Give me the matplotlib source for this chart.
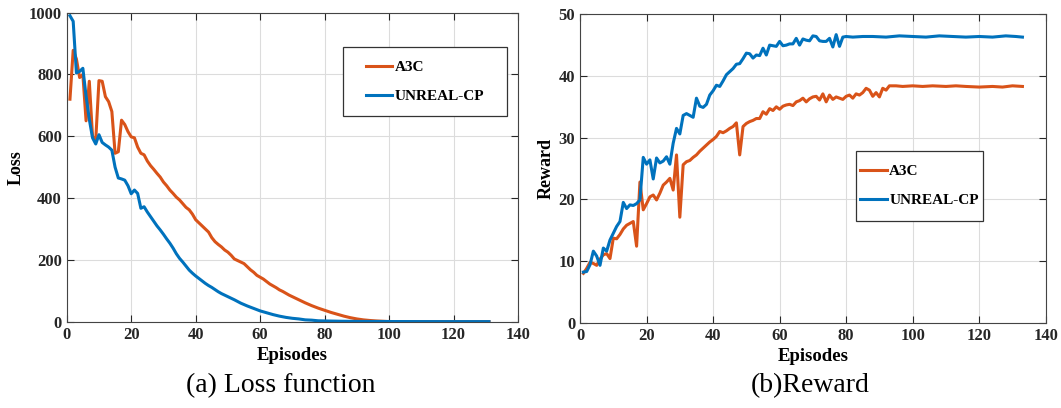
import matplotlib
matplotlib.use("Agg")
import matplotlib.pyplot as plt
from matplotlib.patches import Rectangle

plt.rcParams.update({
    "font.family": "Liberation Serif", "font.weight": "bold",
    "axes.labelweight": "bold", "font.size": 11.5,
})
ORANGE = "#D95319"
BLUE = "#0072BD"
SPINE = "#444444"

# ---- loss curves
loss_a3c_ep = [1, 2, 3, 4, 5, 6, 7, 8, 9, 10, 11, 12, 13, 14, 15, 16, 17, 18, 19, 20,
               21, 22, 23, 24, 25, 26, 27, 28, 29, 30, 31, 32, 33, 34, 35, 36, 37, 38, 39, 40,
               41, 42, 43, 44, 45, 46, 47, 48, 49, 50, 51, 52, 53, 54, 55, 56, 57, 58, 59, 60,
               61, 62, 63, 64, 65, 66, 67, 68, 69, 70, 72, 74, 76, 78, 80, 82, 84, 86, 88, 90,
               92, 94, 96, 98, 100, 105, 110, 115, 120, 125, 131]
loss_a3c = [720, 878, 850, 790, 800, 650, 778, 600, 588, 780, 778, 728, 712, 680, 545, 550, 652, 638, 615, 598,
            595, 565, 545, 540, 520, 505, 493, 480, 468, 452, 440, 426, 415, 403, 394, 382, 370, 362, 348, 330,
            320, 310, 300, 290, 272, 259, 250, 242, 232, 225, 215, 203, 198, 193, 188, 178, 168, 160, 150, 144,
            138, 130, 122, 116, 110, 103, 98, 92, 86, 81, 71, 61, 52, 44, 37, 30, 24, 18, 13, 9,
            6, 4, 2.5, 1.5, 0.5, 0.3, 0.2, 0.2, 0.1, 0.1, 0.1]

loss_unreal_ep = [1, 2, 3, 4, 5, 6, 7, 8, 9, 10, 11, 12, 13, 14, 15, 16, 17, 18, 19, 20,
                  21, 22, 23, 24, 25, 26, 27, 28, 29, 30, 31, 32, 33, 34, 35, 36, 37, 38, 39, 40,
                  41, 42, 43, 44, 45, 46, 47, 48, 49, 50, 52, 54, 56, 58, 60, 62, 64, 66, 68, 70,
                  72, 74, 76, 78, 80, 85, 90, 100, 110, 120, 131]
loss_unreal = [990, 972, 805, 810, 820, 730, 655, 595, 575, 605, 580, 572, 565, 555, 500, 465, 462, 458, 440, 414,
               426, 415, 367, 372, 355, 340, 325, 310, 297, 283, 268, 254, 238, 220, 205, 193, 180, 167, 157, 148,
               140, 132, 124, 117, 111, 104, 97, 91, 86, 81, 71, 60, 51, 43, 35, 29, 23, 18, 14, 11,
               9, 6, 5, 3, 2.5, 1.5, 1, 0.6, 0.4, 0.3, 0.3]

# ---- reward curves
rew_a3c_ep = list(range(1, 94)) + [95, 97, 100, 103, 106, 110, 113, 116, 120, 124, 127, 130, 133]
rew_a3c = [8.0, 8.8, 9.8, 9.6, 9.3, 10.3, 11.0, 11.2, 10.4, 13.7, 13.6, 14.3, 15.2, 15.8, 16.1, 16.4, 12.4, 22.8, 18.3, 19.3,
           20.4, 20.7, 19.9, 21.0, 22.3, 22.8, 23.4, 21.5, 27.2, 17.1, 25.6, 26.1, 26.3, 26.8, 27.2, 27.8, 28.3, 28.8, 29.3, 29.7,
           30.2, 31.0, 30.8, 31.1, 31.5, 31.8, 32.4, 27.2, 31.8, 32.3, 32.6, 32.8, 33.1, 33.1, 34.2, 33.8, 34.7, 34.4, 35.0, 34.6,
           35.1, 35.3, 35.4, 35.2, 35.8, 36.0, 36.4, 35.8, 36.3, 36.6, 36.7, 36.1, 37.1, 35.8, 36.9, 36.2, 36.6, 36.4, 36.2, 36.7,
           36.9, 36.4, 37.1, 36.9, 37.3, 38.0, 37.7, 36.7, 37.3, 36.6, 38.0, 37.7, 38.4,
           38.4, 38.3, 38.4, 38.3, 38.4, 38.3, 38.4, 38.3, 38.2, 38.3, 38.2, 38.4, 38.3]

rew_unreal_ep = list(range(1, 81)) + [82, 85, 88, 92, 96, 100, 104, 108, 112, 116, 120, 124, 128, 131, 133]
rew_unreal = [8.2, 8.3, 9.4, 11.6, 10.8, 9.3, 12.1, 11.6, 13.4, 14.5, 15.6, 16.4, 19.5, 18.5, 19.1, 19.0, 19.3, 19.9, 26.8, 25.7,
              26.4, 23.3, 26.7, 25.9, 26.2, 26.9, 25.7, 29.1, 31.5, 30.6, 33.6, 33.9, 33.6, 33.3, 36.4, 35.1, 34.9, 35.4, 36.9, 37.6,
              38.5, 38.3, 39.2, 40.2, 40.7, 41.2, 41.9, 42.0, 42.8, 43.7, 43.6, 42.9, 43.4, 43.3, 44.5, 43.4, 45.0, 44.9, 44.8, 45.6,
              44.9, 45.0, 45.2, 45.2, 46.1, 45.0, 46.0, 45.8, 45.7, 46.5, 46.4, 45.7, 45.6, 45.6, 46.1, 44.7, 46.7, 44.8, 46.3, 46.4,
              46.3, 46.4, 46.4, 46.3, 46.5, 46.4, 46.3, 46.5, 46.4, 46.3, 46.4, 46.3, 46.5, 46.4, 46.3]


def style(ax, ymax, ystep):
    ax.set_xlim(0, 140)
    ax.set_ylim(0, ymax)
    ax.set_xticks(range(0, 141, 20))
    ax.set_yticks(range(0, ymax + 1, ystep))
    ax.grid(True, color="#dcdcdc", lw=0.8)
    ax.set_axisbelow(True)
    ax.tick_params(direction="in", top=True, right=True, length=5,
                   colors="#262626", labelsize=12)
    for s in ax.spines.values():
        s.set_color(SPINE)
        s.set_linewidth(0.8)


def legend_box(ax, x0, y0, x1, y1, fs):
    ax.add_patch(Rectangle((x0, y0), x1 - x0, y1 - y0, transform=ax.transAxes,
                           fill=True, facecolor="white", edgecolor="#333333",
                           lw=0.9, zorder=5))
    leg = ax.legend(loc="center", bbox_to_anchor=((x0 + x1) / 2, (y0 + y1) / 2),
                    frameon=False, fontsize=fs, handlelength=1.75, handletextpad=0.15,
                    labelspacing=1.0, borderpad=0)
    leg.set_zorder(6)


fig = plt.figure(figsize=(10.61, 4.08), dpi=100)
ax1 = fig.add_axes([0.0629, 0.2115, 0.4253, 0.7575])
ax2 = fig.add_axes([0.5467, 0.2091, 0.4389, 0.7559])

ax1.plot(loss_a3c_ep, loss_a3c, color=ORANGE, lw=2.2, label="A3C")
ax1.plot(loss_unreal_ep, loss_unreal, color=BLUE, lw=2.2, label="UNREAL-CP")
style(ax1, 1000, 200)
ax1.set_xlabel("Episodes", fontsize=13.5, labelpad=3)
ax1.set_ylabel("Loss", fontsize=13, labelpad=3)
legend_box(ax1, 0.6116, 0.6657, 0.9763, 0.888, 11)

ax2.plot(rew_a3c_ep, rew_a3c, color=ORANGE, lw=2.2, label="A3C")
ax2.plot(rew_unreal_ep, rew_unreal, color=BLUE, lw=2.2, label="UNREAL-CP")
style(ax2, 50, 10)
ax2.set_xlabel("Episodes", fontsize=13.5, labelpad=3)
ax2.set_ylabel("Reward", fontsize=13, labelpad=3)
legend_box(ax2, 0.5927, 0.3307, 0.8647, 0.5567, 11)

fig.text(0.265, 0.055, "(a) Loss function", ha="center", va="center",
         fontsize=20, fontweight="normal")
fig.text(0.764, 0.055, "(b)Reward", ha="center", va="center",
         fontsize=20, fontweight="normal")

fig.savefig("out.png", dpi=100)
